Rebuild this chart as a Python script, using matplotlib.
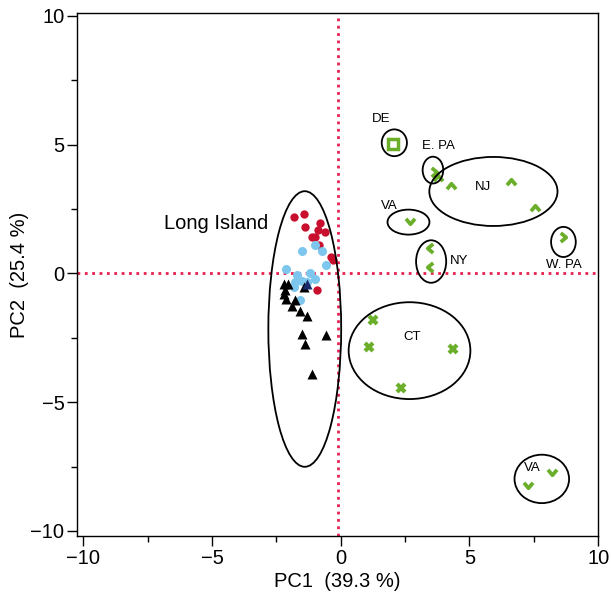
import matplotlib.pyplot as plt
from matplotlib.patches import Ellipse
from matplotlib.path import Path

plt.rcParams['font.family'] = ['Liberation Sans', 'DejaVu Sans']

# Long Island samples
red_x = [-1.83, -1.44, -1.38, -0.82, -0.90, -0.60, -1.12, -0.99, -0.86, -0.38, -0.30, -0.92]
red_y = [2.19, 2.32, 1.80, 1.97, 1.67, 1.61, 1.41, 1.41, 1.09, 0.63, 0.53, -0.63]
blue_x = [-1.51, -0.99, -0.73, -0.57, -2.12, -1.70, -1.18, -0.99, -1.77, -1.51, -1.31, -1.83, -1.60]
blue_y = [0.87, 1.09, 0.87, 0.31, 0.18, -0.08, 0.01, -0.21, -0.34, -0.30, -0.34, -0.53, -1.05]
tri_x = [-2.22, -2.07, -2.16, -2.19, -2.12, -1.77, -1.90, -1.57, -1.31, -1.51, -0.57, -1.38, -1.12, -1.44]
tri_y = [-0.40, -0.40, -0.63, -0.82, -0.99, -1.05, -1.28, -1.47, -1.67, -2.35, -2.39, -2.74, -3.90, -0.53]
navy_x = [-1.31]
navy_y = [-0.43]

# other regions
de_x, de_y = [2.03], [5.02]
epa_x, epa_y = [3.61], [3.94]
nj_x = [3.78, 4.29, 6.62, 7.55]
nj_y = [3.72, 3.40, 3.55, 2.52]
va_x = [2.67, 8.20, 7.29]
va_y = [2.02, -7.73, -8.22]
ny_x = [3.45, 3.45]
ny_y = [0.99, 0.25]
wpa_x, wpa_y = [8.65], [1.41]
ct_x = [1.24, 1.08, 4.36, 2.35]
ct_y = [-1.80, -2.87, -2.95, -4.46]

# group ellipses: center x, center y, width, height
ell_x = [-1.40, 2.08, 3.58, 5.93, 2.63, 3.51, 8.65, 2.67, 7.81]
ell_y = [-2.16, 5.07, 4.01, 3.18, 1.99, 0.46, 1.22, -3.00, -7.98]
ell_w = [2.83, 0.98, 0.80, 4.98, 1.63, 1.17, 0.96, 4.73, 2.12]
ell_h = [10.70, 1.04, 1.04, 2.68, 0.97, 1.65, 1.17, 3.76, 1.88]

labels = ['DE', 'E. PA', 'NJ', 'VA', 'NY', 'W. PA', 'CT', 'VA']
lab_x = [1.58, 3.80, 5.51, 1.90, 4.58, 8.68, 2.76, 7.46]
lab_y = [5.99, 4.94, 3.36, 2.61, 0.47, 0.31, -2.48, -7.56]

green = '#6aae2a'
red = '#c8102e'
blue = '#7dc6ee'
dotred = '#e5214f'

M, L = Path.MOVETO, Path.LINETO
up = Path([(-1, -0.6), (0, 0.6), (1, -0.6)], [M, L, L])
down = Path([(-1, 0.6), (0, -0.6), (1, 0.6)], [M, L, L])
left = Path([(0.6, -1), (-0.6, 0), (0.6, 1)], [M, L, L])
right = Path([(-0.6, -1), (0.6, 0), (-0.6, 1)], [M, L, L])

fig = plt.figure(figsize=(6.11, 6.01), dpi=100)
ax = fig.add_axes([0.126, 0.108, 0.853, 0.870])

ax.axvline(-0.1, color=dotred, ls=':', lw=2, zorder=1)
ax.axhline(0, color=dotred, ls=':', lw=2, zorder=1)

ax.plot(red_x, red_y, 'o', color=red, ms=6, mec='none', zorder=3)
ax.plot(blue_x, blue_y, 'o', color=blue, ms=6.5, mec='none', zorder=3)
ax.plot(tri_x, tri_y, '^', color='black', ms=6.5, mec='none', zorder=4)
ax.plot(navy_x, navy_y, '^', color='#1a2a6c', ms=6.5, mec='none', zorder=4)

kw = dict(ls='none', color=green, mfc='none', mew=2.7, ms=6.5, zorder=3)
ax.plot(nj_x, nj_y, marker=up, **kw)
ax.plot(va_x, va_y, marker=down, **kw)
ax.plot(ny_x, ny_y, marker=left, **kw)
ax.plot(epa_x + wpa_x, epa_y + wpa_y, marker=right, **kw)
ax.plot(ct_x, ct_y, 'x', color=green, mew=3, ms=6, ls='none', zorder=3)
ax.plot(de_x, de_y, 's', color=green, mfc='white', mew=2.5, ms=6.5, ls='none', zorder=3)

for i in range(len(ell_x)):
    ax.add_patch(Ellipse((ell_x[i], ell_y[i]), ell_w[i], ell_h[i],
                         fill=False, ec='black', lw=1.3, zorder=5))

for i in range(len(labels)):
    ax.text(lab_x[i], lab_y[i], labels[i], fontsize=9.5, ha='center', va='center')
ax.text(-4.83, 1.95, 'Long Island', fontsize=14.5, ha='center', va='center')

ax.set_xlim(-10.25, 10)
ax.set_ylim(-10.2, 10.1)
ax.set_xticks([-10, -5, 0, 5, 10])
ax.set_yticks([-10, -5, 0, 5, 10])
ax.set_xticklabels(['\u221210', '\u22125', '0', '5', '10'])
ax.set_yticklabels(['\u221210', '\u22125', '0', '5', '10'])
ax.set_xticks([-7.5, -2.5, 2.5, 7.5], minor=True)
ax.set_yticks([-7.5, -2.5, 2.5, 7.5], minor=True)
ax.tick_params(which='major', length=7, width=1, labelsize=14.5, pad=2)
ax.tick_params(which='minor', length=4, width=1)
for s in ax.spines.values():
    s.set_linewidth(1)

ax.set_xlabel('PC1  (39.3 %)', fontsize=14.5, labelpad=3)
ax.set_ylabel('PC2  (25.4 %)', fontsize=14.5, labelpad=1)

fig.savefig('out.png', dpi=100)
